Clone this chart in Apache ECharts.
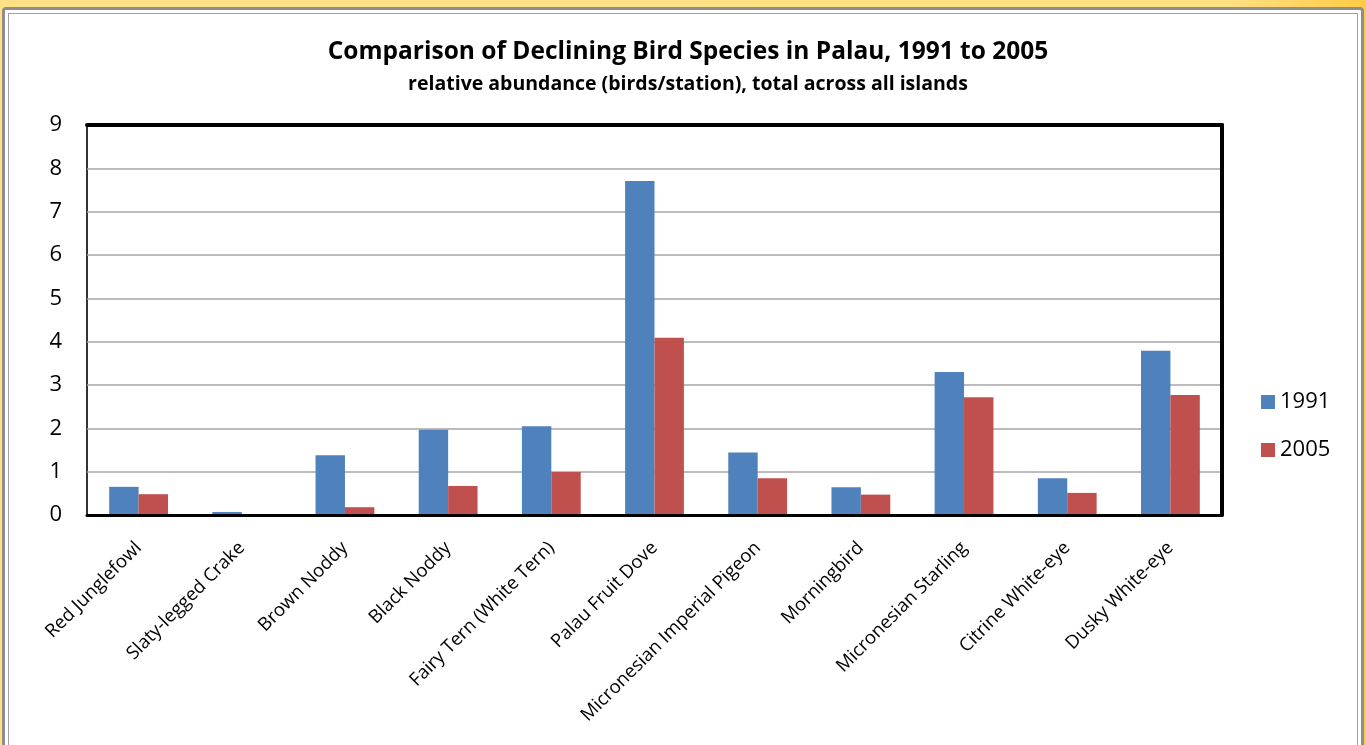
<!DOCTYPE html>
<html>
<head>
<meta charset="utf-8">
<script src="https://cdn.jsdelivr.net/npm/echarts@6/dist/echarts.min.js"></script>
<style>
html,body{margin:0;padding:0;width:1366px;height:745px;overflow:hidden;background:linear-gradient(90deg,#FFE085 0%,#FFE083 90%,#FFCB45 100%);}
#frame{position:absolute;left:2px;top:7px;width:1356px;height:760px;background:#fff;border:3px solid #8E8E8E;border-radius:4px;}
#inner{position:absolute;left:3px;top:3px;right:3px;bottom:0;border:1px solid #A0A0A0;}
#chart{position:absolute;left:0;top:0;width:1366px;height:745px;}
</style>
</head>
<body>
<div id="frame"><div id="inner"></div></div>
<div id="chart"></div>
<script>
const categories = ["Red Junglefowl","Slaty-legged Crake","Brown Noddy","Black Noddy","Fairy Tern (White Tern)","Palau Fruit Dove","Micronesian Imperial Pigeon","Morningbird","Micronesian Starling","Citrine White-eye","Dusky White-eye"];
const values1991 = [0.65,0.07,1.38,1.97,2.05,7.71,1.44,0.64,3.30,0.85,3.79];
const values2005 = [0.48,0,0.18,0.67,0.99,4.09,0.85,0.47,2.72,0.51,2.77];
const seriesNames = ["1991","2005"];
const titleText = "Comparison of Declining Bird Species in Palau, 1991 to 2005";
const subtitleText = "relative abundance (birds/station), total across all islands";

const FONT = "'Open Sans', sans-serif";
const chart = echarts.init(document.getElementById('chart'), null, {renderer:'canvas'});
chart.setOption({
  backgroundColor: 'transparent',
  animation: false,
  textStyle: {fontFamily: FONT},
  title: {
    text: titleText,
    subtext: subtitleText,
    left: 683, textAlign: 'center', top: 35,
    itemGap: 9,
    textStyle: {fontSize: 24.5, fontWeight: 'bold', color: '#000', fontFamily: FONT},
    subtextStyle: {fontSize: 19.5, fontWeight: 'bold', color: '#000', fontFamily: FONT}
  },
  legend: {
    orient: 'vertical',
    left: 1256, top: 386,
    itemWidth: 14, itemHeight: 14, itemGap: 26,
    icon: 'rect',
    textStyle: {fontSize: 22, color: '#000', fontFamily: FONT},
    data: seriesNames
  },
  grid: {
    left: 87, right: 144, top: 125, bottom: 230,
    show: true, borderColor: '#333', borderWidth: 2, backgroundColor: '#fff'
  },
  xAxis: [{
    type: 'category',
    data: categories,
    z: 10,
    axisTick: {show: false},
    axisLine: {show: true, onZero: false, lineStyle: {color: '#000', width: 3}},
    axisLabel: {rotate: 45, fontSize: 18.5, color: '#000', margin: 30, interval: 0, fontFamily: FONT}
  }, {
    type: 'category',
    position: 'top',
    data: categories,
    z: 10,
    axisTick: {show: false},
    axisLabel: {show: false},
    axisLine: {show: true, onZero: false, lineStyle: {color: '#000', width: 4}}
  }],
  yAxis: [{
    type: 'value',
    min: 0, max: 9, interval: 1,
    z: 1,
    axisLine: {show: false},
    axisTick: {show: false},
    axisLabel: {fontSize: 22, color: '#000', margin: 25, fontFamily: FONT},
    splitLine: {show: true, lineStyle: {color: '#A6A6A6', width: 1.5}}
  }, {
    type: 'value',
    position: 'right',
    min: 0, max: 9, interval: 1,
    z: 10,
    axisLine: {show: true, onZero: false, lineStyle: {color: '#000', width: 4}},
    axisTick: {show: false},
    axisLabel: {show: false},
    splitLine: {show: false}
  }],
  series: [
    {name: seriesNames[0], type: 'bar', data: values1991, barGap: '0%', barCategoryGap: '43%',
     itemStyle: {color: '#4F81BD'}},
    {name: seriesNames[1], type: 'bar', data: values2005, barGap: '0%', barCategoryGap: '43%',
     itemStyle: {color: '#C0504D'}}
  ]
});
</script>
</body>
</html>
